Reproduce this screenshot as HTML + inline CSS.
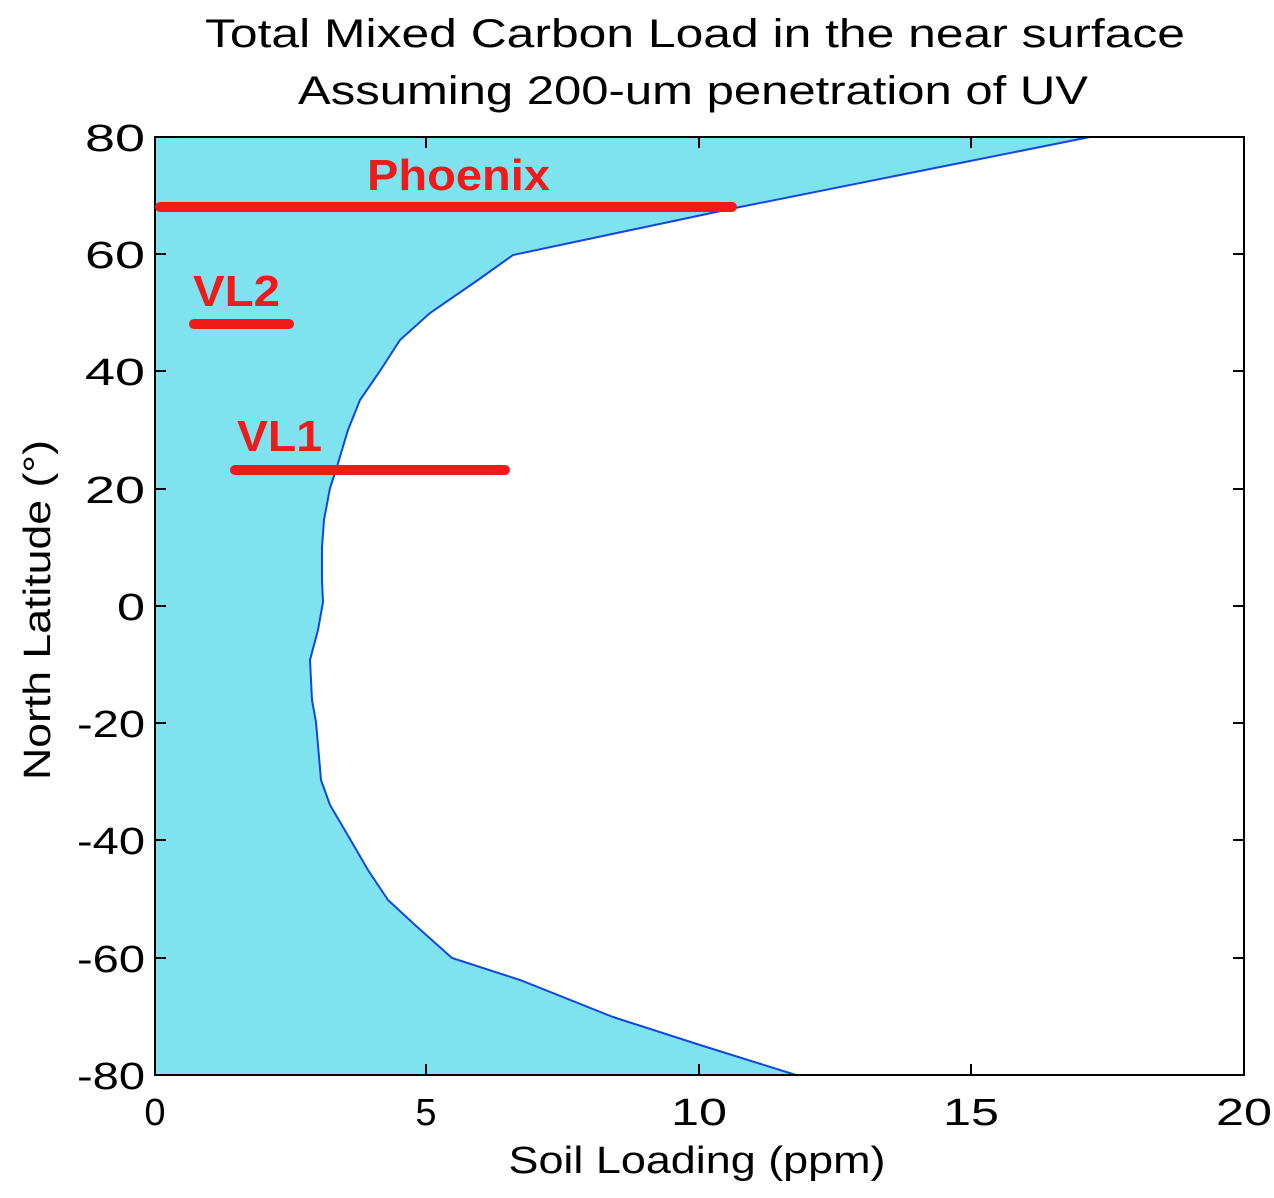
<!DOCTYPE html>
<html><head><meta charset="utf-8"><style>
body{margin:0;background:#fff;}
svg{display:block;}
text{font-family:"Liberation Sans",sans-serif;}
.r{font-family:"DejaVu Sans",sans-serif;}
</style></head><body>
<svg width="1274" height="1198" viewBox="0 0 1274 1198" xmlns="http://www.w3.org/2000/svg">
<rect width="1274" height="1198" fill="#fff"/>
<polygon fill="#7fe3ef" points="155,137 1090,137 735,208 513,255 478,280 430,313 400,340 380,371 360,400 348,430 336,470 330,488 324,520 322,547 322,580 323,602 318,630 310,660 312,700 316,722 321,780 330,805 350,839 368,870 388,900 415,925 452,958 520,980 613,1017 700,1045 796,1075 155,1075"/>
<polyline fill="none" stroke="#1446e0" stroke-width="2" points="1090,137 735,208 513,255 478,280 430,313 400,340 380,371 360,400 348,430 336,470 330,488 324,520 322,547 322,580 323,602 318,630 310,660 312,700 316,722 321,780 330,805 350,839 368,870 388,900 415,925 452,958 520,980 613,1017 700,1045 796,1075"/>
<rect x="155" y="137" width="1089" height="938" fill="none" stroke="#000" stroke-width="2"/>
<g stroke="#000" stroke-width="2">
<line x1="426" y1="1075" x2="426" y2="1064"/><line x1="426" y1="137" x2="426" y2="148"/>
<line x1="699" y1="1075" x2="699" y2="1064"/><line x1="699" y1="137" x2="699" y2="148"/>
<line x1="971" y1="1075" x2="971" y2="1064"/><line x1="971" y1="137" x2="971" y2="148"/>
<line x1="155" y1="254" x2="166" y2="254"/><line x1="1244" y1="254" x2="1233" y2="254"/>
<line x1="155" y1="371" x2="166" y2="371"/><line x1="1244" y1="371" x2="1233" y2="371"/>
<line x1="155" y1="489" x2="166" y2="489"/><line x1="1244" y1="489" x2="1233" y2="489"/>
<line x1="155" y1="606" x2="166" y2="606"/><line x1="1244" y1="606" x2="1233" y2="606"/>
<line x1="155" y1="723" x2="166" y2="723"/><line x1="1244" y1="723" x2="1233" y2="723"/>
<line x1="155" y1="840" x2="166" y2="840"/><line x1="1244" y1="840" x2="1233" y2="840"/>
<line x1="155" y1="958" x2="166" y2="958"/><line x1="1244" y1="958" x2="1233" y2="958"/>
</g>
<g font-size="38" fill="#000" text-anchor="end">
<text x="145" y="151" textLength="60" lengthAdjust="spacingAndGlyphs">80</text>
<text x="145" y="268" textLength="60" lengthAdjust="spacingAndGlyphs">60</text>
<text x="145" y="385" textLength="60" lengthAdjust="spacingAndGlyphs">40</text>
<text x="145" y="503" textLength="60" lengthAdjust="spacingAndGlyphs">20</text>
<text x="145" y="620" textLength="28" lengthAdjust="spacingAndGlyphs">0</text>
<text x="145" y="737" textLength="68" lengthAdjust="spacingAndGlyphs">-20</text>
<text x="145" y="854" textLength="68" lengthAdjust="spacingAndGlyphs">-40</text>
<text x="145" y="972" textLength="68" lengthAdjust="spacingAndGlyphs">-60</text>
<text x="145" y="1089" textLength="68" lengthAdjust="spacingAndGlyphs">-80</text>
</g>
<g font-size="38" fill="#000" text-anchor="middle">
<text x="155" y="1125">0</text><text x="426" y="1125">5</text><text x="699" y="1125" textLength="56" lengthAdjust="spacingAndGlyphs">10</text>
<text x="971" y="1125" textLength="56" lengthAdjust="spacingAndGlyphs">15</text><text x="1244" y="1125" textLength="56" lengthAdjust="spacingAndGlyphs">20</text>
<text x="697" y="1173" textLength="377" lengthAdjust="spacingAndGlyphs">Soil Loading (ppm)</text>
<text x="695" y="47" font-size="40" textLength="980" lengthAdjust="spacingAndGlyphs">Total Mixed Carbon Load in the near surface</text>
<text x="693" y="104" font-size="40" textLength="790" lengthAdjust="spacingAndGlyphs">Assuming 200-um penetration of UV</text>
<text transform="translate(50,610) rotate(-90)" textLength="340" lengthAdjust="spacingAndGlyphs">North Latitude (°)</text>
</g>
<g stroke="#f01a1a" stroke-width="10" stroke-linecap="round">
<line x1="160" y1="207" x2="732" y2="207"/>
<line x1="194" y1="324" x2="289" y2="324"/>
<line x1="235" y1="470" x2="505" y2="470"/>
</g>
<g class="r" fill="#f01a1a" font-size="44" font-weight="bold">
<text x="367" y="190" textLength="183" lengthAdjust="spacingAndGlyphs">Phoenix</text>
<text x="193" y="306" textLength="87" lengthAdjust="spacingAndGlyphs">VL2</text>
<text x="237" y="451" textLength="85" lengthAdjust="spacingAndGlyphs">VL1</text>
</g>
</svg>
</body></html>
